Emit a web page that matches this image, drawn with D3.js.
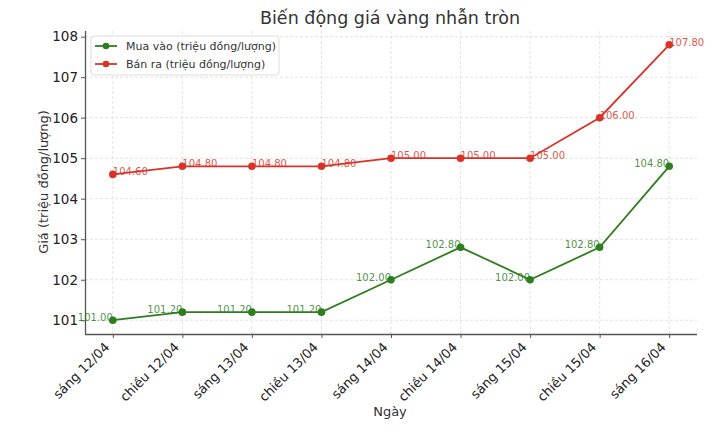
<!DOCTYPE html>
<html>
<head>
<meta charset="utf-8">
<script src="https://cdnjs.cloudflare.com/ajax/libs/d3/7.8.5/d3.min.js"></script>
<style>
  body { margin: 0; background: #fff; }
  text { font-family: "DejaVu Sans", sans-serif; }
</style>
</head>
<body>
<div id="chart"></div>
<script>
var days = ["sáng 12/04", "chiều 12/04", "sáng 13/04", "chiều 13/04", "sáng 14/04",
            "chiều 14/04", "sáng 15/04", "chiều 15/04", "sáng 16/04"];
var muaVao = [101.00, 101.20, 101.20, 101.20, 102.00, 102.80, 102.00, 102.80, 104.80];
var banRa = [104.60, 104.80, 104.80, 104.80, 105.00, 105.00, 105.00, 106.00, 107.80];
var yTicks = [101, 102, 103, 104, 105, 106, 107, 108];
var seriesNames = ["Mua vào (triệu đồng/lượng)", "Bán ra (triệu đồng/lượng)"];

function init(){
    var w = 720, h = 430;
    var left = 85, right = 697, top = 31, bottom = 334;
    var green = "#2e7d1f", red = "#d93328";

    var svg = d3.select("#chart").append("svg")
        .attr("width", w).attr("height", h);

    // x: point scale, matplotlib style 5% margin
    var x = d3.scalePoint()
        .domain(days)
        .range([left, right])
        .padding(0.4);

    var lo = d3.min(muaVao), hi = d3.max(banRa), m = (hi - lo) * 0.05;
    var y = d3.scaleLinear()
        .domain([lo - m, hi + m])
        .range([bottom, top]);

    // grid
    svg.append("g").selectAll("line.gx")
        .data(days).enter().append("line")
        .attr("x1", function(d) { return x(d); })
        .attr("x2", function(d) { return x(d); })
        .attr("y1", top).attr("y2", bottom)
        .attr("stroke", "#dcdcdc").attr("stroke-width", 0.8)
        .attr("stroke-dasharray", "3,2");
    svg.append("g").selectAll("line.gy")
        .data(yTicks).enter().append("line")
        .attr("y1", function(d) { return y(d); })
        .attr("y2", function(d) { return y(d); })
        .attr("x1", left).attr("x2", right)
        .attr("stroke", "#dcdcdc").attr("stroke-width", 0.8)
        .attr("stroke-dasharray", "3,2");

    // axes
    var xAxis = d3.axisBottom(x).tickSize(4).tickSizeOuter(0);
    var gx = svg.append("g")
        .attr("transform", "translate(0," + bottom + ")")
        .call(xAxis);
    gx.select(".domain").attr("stroke", "#555").attr("stroke-width", 1.3)
        .attr("d", "M" + left + ",0.5H" + right);
    gx.selectAll(".tick line").attr("stroke", "#555");
    gx.selectAll(".tick text")
        .attr("font-size", 13).attr("fill", "#222")
        .attr("text-anchor", "end")
        .attr("dy", null).attr("y", 0)
        .attr("transform", "translate(-3,14) rotate(-45)");

    var yAxis = d3.axisLeft(y).tickValues(yTicks).tickSize(4).tickPadding(3)
        .tickSizeOuter(0).tickFormat(d3.format("d"));
    var gy = svg.append("g")
        .attr("transform", "translate(" + left + ",0)")
        .call(yAxis);
    gy.select(".domain").attr("stroke", "#555").attr("stroke-width", 1.3)
        .attr("d", "M0.5," + top + "V" + bottom);
    gy.selectAll(".tick line").attr("stroke", "#555");
    gy.selectAll(".tick text").attr("font-size", 13.5).attr("fill", "#222");

    // titles
    svg.append("text").attr("x", 390).attr("y", 24)
        .attr("text-anchor", "middle").attr("font-size", 17.5).attr("fill", "#333")
        .text("Biến động giá vàng nhẫn tròn");
    svg.append("text").attr("x", 390).attr("y", 416)
        .attr("text-anchor", "middle").attr("font-size", 13).attr("fill", "#333")
        .text("Ngày");
    svg.append("text")
        .attr("transform", "translate(48,182) rotate(-90)")
        .attr("text-anchor", "middle").attr("font-size", 13).attr("fill", "#333")
        .text("Giá (triệu đồng/lượng)");

    var line = d3.line()
        .x(function(d, i) { return x(days[i]); })
        .y(function(d) { return y(d); });

    var series = [
        { values: muaVao, color: green, anchor: "end" },
        { values: banRa, color: red, anchor: "start" }
    ];

    series.forEach(function(s) {
        svg.append("path").datum(s.values)
            .attr("d", line).attr("fill", "none")
            .attr("stroke", s.color).attr("stroke-width", 1.8);
        svg.append("g").selectAll("circle")
            .data(s.values).enter().append("circle")
            .attr("cx", function(d, i) { return x(days[i]); })
            .attr("cy", function(d) { return y(d); })
            .attr("r", 3.8).attr("fill", s.color);
        svg.append("g").selectAll("text")
            .data(s.values).enter().append("text")
            .attr("x", function(d, i) { return x(days[i]); })
            .attr("y", function(d) { return y(d) + 1; })
            .attr("text-anchor", s.anchor)
            .attr("font-size", 10)
            .attr("fill", s.color).attr("fill-opacity", 0.85)
            .text(function(d) { return d.toFixed(2); });
    });

    // legend
    var lg = svg.append("g");
    lg.append("rect").attr("x", 91).attr("y", 36).attr("width", 188).attr("height", 39)
        .attr("rx", 3).attr("fill", "#fff").attr("fill-opacity", 0.8)
        .attr("stroke", "#ddd");
    [green, red].forEach(function(c, i) {
        var yy = 46 + i * 18;
        lg.append("line").attr("x1", 95).attr("x2", 117).attr("y1", yy).attr("y2", yy)
            .attr("stroke", c).attr("stroke-width", 1.8);
        lg.append("circle").attr("cx", 106).attr("cy", yy).attr("r", 3.3).attr("fill", c);
        lg.append("text").attr("x", 126).attr("y", yy + 4)
            .attr("font-size", 11).attr("fill", "#333").text(seriesNames[i]);
    });
}
window.onload = init;
</script>
</body>
</html>
